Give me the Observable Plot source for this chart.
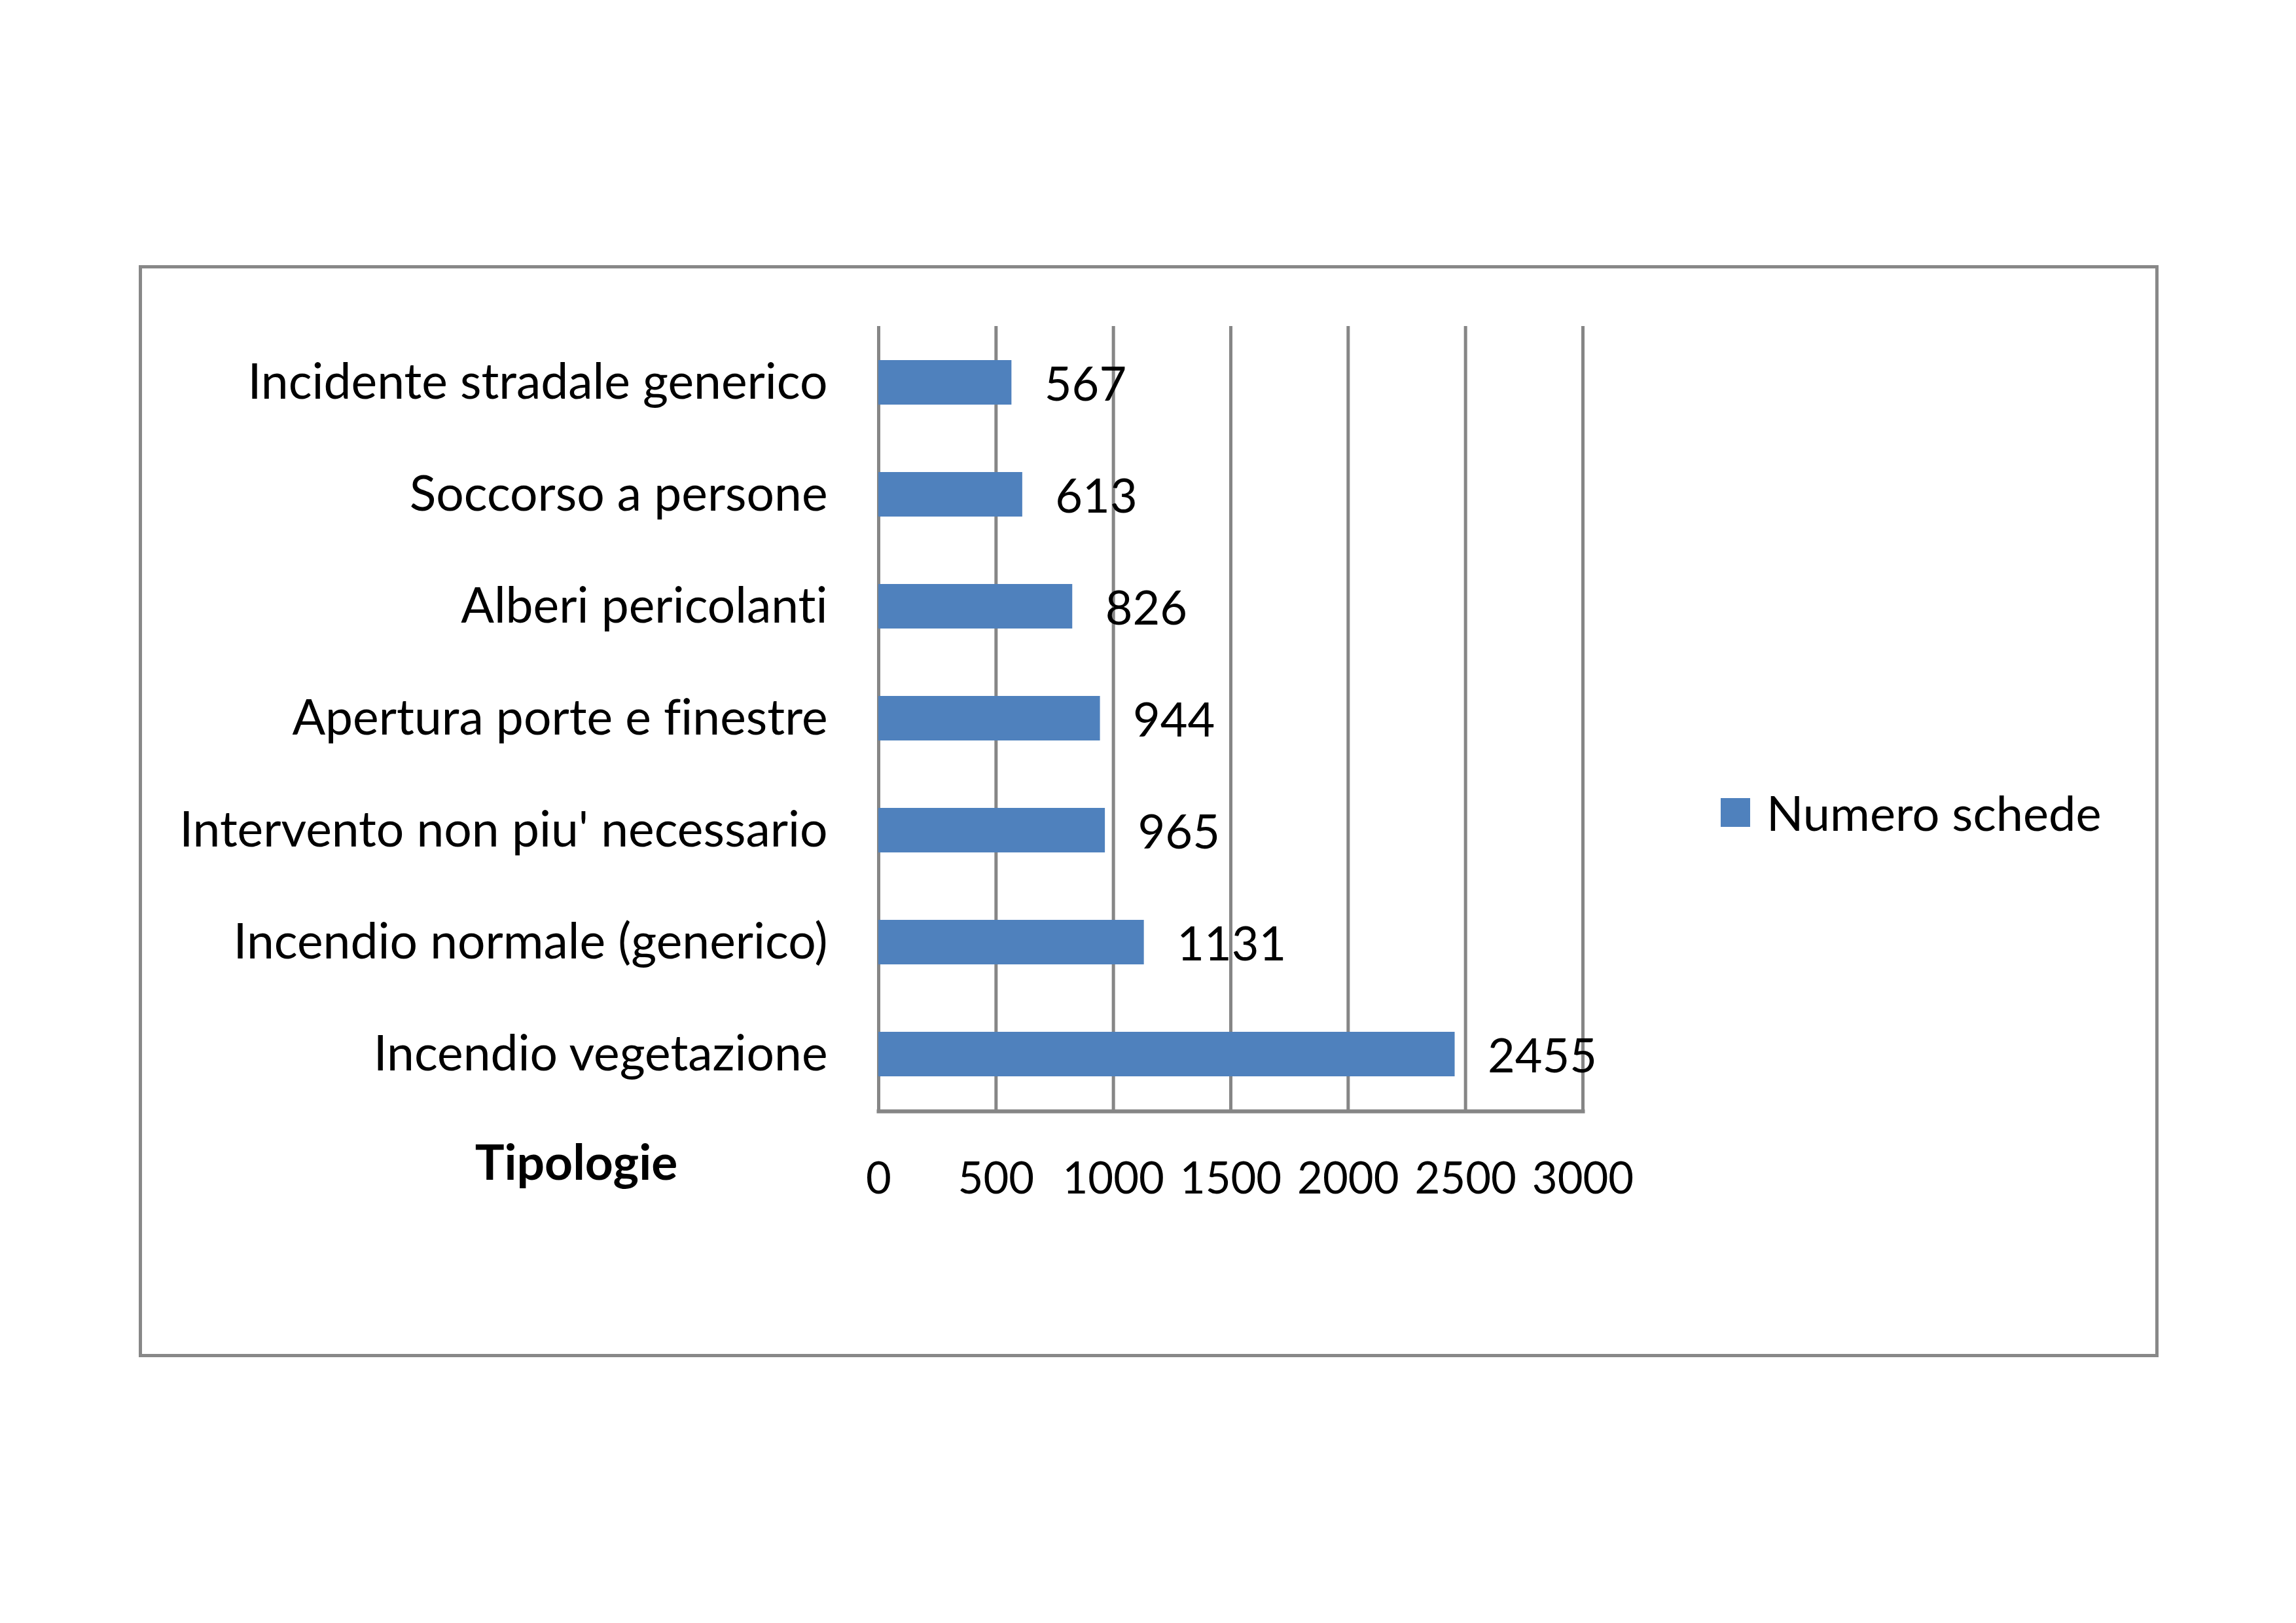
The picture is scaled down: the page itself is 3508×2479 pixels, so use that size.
<!DOCTYPE html>
<html>
<head>
<meta charset="utf-8">
<script src="https://cdn.jsdelivr.net/npm/d3@7"></script>
<script src="https://cdn.jsdelivr.net/npm/@observablehq/plot@0.6"></script>
<style>
  html, body { margin: 0; padding: 0; background: #fff; }
  body { width: 3508px; height: 2479px; position: relative; overflow: hidden; font-family: Lato, "Open Sans", sans-serif; font-variant-ligatures: none; }
  #chart { position: absolute; left: 0; top: 0; }
  #chart svg { font-variant-ligatures: none; }
  #frame { position: absolute; left: 212px; top: 405px; width: 3086px; height: 1668px; border: 5px solid #888; box-sizing: border-box; pointer-events: none; }
  #legend { position: absolute; left: 2629px; top: 1196px; display: flex; align-items: center; font-size: 74px; color: #000; white-space: nowrap; }
  #legend .sw { width: 45px; height: 44px; background: #4F81BD; margin-right: 25px; }
</style>
</head>
<body>
<div id="chart"></div>
<div id="frame"></div>
<div id="legend"><div class="sw"></div><span>Numero schede</span></div>
<script>
const categories = [
  "Incidente stradale generico",
  "Soccorso a persone",
  "Alberi pericolanti",
  "Apertura porte e finestre",
  "Intervento non piu' necessario",
  "Incendio normale (generico)",
  "Incendio vegetazione"
];
const values = [567, 613, 826, 944, 965, 1131, 2455];
const xTicks = [0, 500, 1000, 1500, 2000, 2500, 3000];
const seriesName = "Numero schede";
const axisTitle = "Tipologie";

const data = categories.map((c, i) => ({category: c, value: values[i]}));

const chart = Plot.plot({
  width: 3508,
  height: 2479,
  marginLeft: 1342,
  marginRight: 1090,
  marginTop: 498,
  marginBottom: 782,
  style: {fontFamily: "Lato, 'Open Sans', sans-serif", fontSize: "75px", color: "#000", background: "transparent"},
  x: {domain: [0, 3000], ticks: xTicks},
  y: {domain: categories, paddingInner: 0.6, paddingOuter: 0.3},
  marks: [
    Plot.gridX(xTicks, {stroke: "#868686", strokeOpacity: 1, strokeWidth: 5}),
    Plot.barX(data, {x: "value", y: "category", fill: "#4F81BD"}),
    Plot.frame({anchor: "bottom", stroke: "#868686", strokeWidth: 6}),
    Plot.text(data, {x: "value", y: "category", text: d => String(d.value), textAnchor: "start", dx: 50, dy: 4, fill: "#000", fontSize: 72}),
    Plot.axisX(xTicks, {tickSize: 0, tickPadding: 78, label: null, tickFormat: d => String(d), fontSize: 67}),
    Plot.axisY({tickSize: 0, tickPadding: 78, label: null}),
    Plot.text([axisTitle], {frameAnchor: "bottom-left", text: d => d, textAnchor: "middle", dx: -462, dy: 104, fontWeight: "bold"})
  ]
});
document.getElementById("chart").appendChild(chart);
</script>
</body>
</html>
